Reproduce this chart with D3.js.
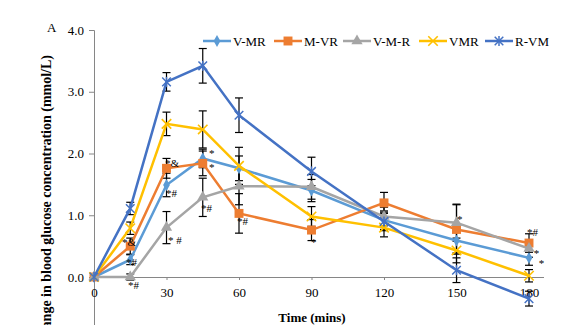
<!DOCTYPE html>
<html>
<head>
<meta charset="utf-8">
<script src="https://cdn.jsdelivr.net/npm/d3@7"></script>
<style>
  body { margin: 0; background: #fff; }
  svg { display: block; font-family: "Liberation Serif", "DejaVu Serif", serif; }
</style>
</head>
<body>
<svg id="main_chart" width="576" height="325"></svg>
<script>
// time points (mins)
const times = [0, 15, 30, 45, 60, 90, 120, 150, 180];
const seriesNames = ["V-MR", "M-VR", "V-M-R", "VMR", "R-VM"];

// mean change in blood glucose (mmol/L)
const vmr_dash = [0, 0.28, 1.49, 1.92, 1.76, 1.40, 0.92, 0.59, 0.31];
const mvr      = [0, 0.50, 1.76, 1.84, 1.03, 0.76, 1.20, 0.77, 0.55];
const vmr_tri  = [0, 0.00, 0.80, 1.29, 1.47, 1.46, 0.98, 0.88, 0.46];
const vmr      = [0, 0.79, 2.48, 2.39, 1.80, 0.98, 0.80, 0.43, 0.02];
const rvm      = [0, 1.11, 3.16, 3.42, 2.62, 1.71, 0.90, 0.11, -0.35];

// error bar half-widths
const err_vmr_dash = [0, 0.08, 0.19, 0.15, 0.20, 0.18, 0.15, 0.20, 0.12];
const err_mvr      = [0, 0.13, 0.16, 0.20, 0.32, 0.17, 0.17, 0.40, 0.15];
const err_vmr_tri  = [0, 0.05, 0.26, 0.31, 0.30, 0.20, 0.15, 0.30, 0.14];
const err_vmr      = [0, 0.10, 0.19, 0.30, 0.30, 0.16, 0.15, 0.20, 0.10];
const err_rvm      = [0, 0.10, 0.15, 0.28, 0.28, 0.23, 0.15, 0.20, 0.12];

const yTicks = [0, 1, 2, 3, 4];
const xTicks = [0, 30, 60, 90, 120, 150, 180];

// significance marks (t, value at baseline, label)
const marks = [
  {t: 11.6, v: 0.50, label: "*&"},
  {t: 13.2, v: 0.18, label: "*#"},
  {t: 14.1, v: -0.19, label: "*#"},
  {t: 29.4, v: 1.78, label: "*&"},
  {t: 29.8, v: 1.30, label: "*#"},
  {t: 30.6, v: 0.53, label: "* #"},
  {t: 47.6, v: 1.95, label: "*"},
  {t: 47.6, v: 1.72, label: "*"},
  {t: 44.3, v: 1.05, label: "*#"},
  {t: 59.2, v: 0.84, label: "*#"},
  {t: 89.8, v: 0.50, label: "*"},
  {t: 150.2, v: 0.87, label: "*"},
  {t: 179.2, v: 0.66, label: "*#"},
  {t: 182, v: 0.33, label: "*"},
  {t: 184, v: 0.16, label: "*"}
];

const colors = ["#5B9BD5", "#ED7D31", "#A5A5A5", "#FFC000", "#4472C4"];
const markers = ["diamond", "square", "triangle", "cross", "star"];
const values = [vmr_dash, mvr, vmr_tri, vmr, rvm];
const errors = [err_vmr_dash, err_mvr, err_vmr_tri, err_vmr, err_rvm];

let svg = d3.select("#main_chart");

let xScale = d3.scaleLinear().domain([0, 186]).range([94, 543.5]);
let yScale = d3.scaleLinear().domain([-1, 4]).range([338.75, 30]);

// y axis
svg.append("g")
    .attr("transform", "translate(94,0)")
    .call(d3.axisLeft(yScale).tickValues(yTicks).tickFormat(d3.format(".1f")).tickSize(5).tickPadding(5))
    .call(g => g.select(".domain").attr("stroke", "#868686"))
    .call(g => g.selectAll(".tick line").attr("stroke", "#868686"))
    .call(g => g.selectAll("text").attr("font-family", "Liberation Serif").attr("font-size", 13).attr("fill", "#000"));

// x axis at zero line
svg.append("g")
    .attr("transform", "translate(0," + yScale(0) + ")")
    .call(d3.axisBottom(xScale).tickValues(xTicks).tickSize(3).tickSizeOuter(0).tickPadding(8))
    .call(g => g.select(".domain").attr("stroke", "#868686"))
    .call(g => g.selectAll(".tick line").attr("stroke", "#868686"))
    .call(g => g.selectAll("text").attr("font-family", "Liberation Serif").attr("font-size", 13).attr("fill", "#000"));

// error bars
values.forEach((vals, s) => {
  let g = svg.append("g").attr("stroke", "#000").attr("stroke-width", 1.2);
  times.forEach((t, i) => {
    let e = errors[s][i];
    if (!e) return;
    let x = xScale(t), y1 = yScale(vals[i] - e), y2 = yScale(vals[i] + e);
    g.append("line").attr("x1", x).attr("x2", x).attr("y1", y1).attr("y2", y2);
    g.append("line").attr("x1", x - 4).attr("x2", x + 4).attr("y1", y1).attr("y2", y1);
    g.append("line").attr("x1", x - 4).attr("x2", x + 4).attr("y1", y2).attr("y2", y2);
  });
});

function drawMarker(g, type, color, x, y) {
  if (type === "diamond") {
    g.append("path").attr("d", d3.symbol().type(d3.symbolDiamond).size(40)())
      .attr("transform", "translate(" + x + "," + y + ")").attr("fill", color);
  } else if (type === "square") {
    g.append("path").attr("d", d3.symbol().type(d3.symbolSquare).size(80)())
      .attr("transform", "translate(" + x + "," + y + ")").attr("fill", color);
  } else if (type === "triangle") {
    g.append("path").attr("d", d3.symbol().type(d3.symbolTriangle).size(55)())
      .attr("transform", "translate(" + x + "," + y + ")").attr("fill", color);
  } else if (type === "cross") {
    g.append("path").attr("d", d3.symbol().type(d3.symbolTimes).size(60)())
      .attr("transform", "translate(" + x + "," + y + ")")
      .attr("fill", "none").attr("stroke", color).attr("stroke-width", 1.6);
  } else {
    g.append("path").attr("d", d3.symbol().type(d3.symbolTimes).size(50)())
      .attr("transform", "translate(" + x + "," + y + ")")
      .attr("fill", "none").attr("stroke", color).attr("stroke-width", 1.5);
    g.append("path").attr("d", "M0,-5V5")
      .attr("transform", "translate(" + x + "," + y + ")")
      .attr("stroke", color).attr("stroke-width", 1.5);
  }
}

let line = d3.line().x(d => xScale(d[0])).y(d => yScale(d[1]));

values.forEach((vals, s) => {
  let g = svg.append("g");
  g.append("path")
    .datum(times.map((t, i) => [t, vals[i]]))
    .attr("d", line)
    .attr("fill", "none")
    .attr("stroke", colors[s])
    .attr("stroke-width", 2.5);
  times.forEach((t, i) => drawMarker(g, markers[s], colors[s], xScale(t), yScale(vals[i])));
});

// significance marks
svg.append("g").selectAll("text")
  .data(marks)
  .enter().append("text")
  .attr("x", d => xScale(d.t))
  .attr("y", d => yScale(d.v))
  .attr("font-size", 11)
  .attr("fill", "#000")
  .text(d => d.label);

// legend
const legendX = [203, 274, 343, 419, 485];
let legend = svg.append("g");
seriesNames.forEach((name, s) => {
  let x0 = legendX[s], y0 = 41;
  legend.append("line").attr("x1", x0).attr("x2", x0 + 28).attr("y1", y0).attr("y2", y0)
    .attr("stroke", colors[s]).attr("stroke-width", 2.5);
  drawMarker(legend, markers[s], colors[s], x0 + 14, y0);
  legend.append("text").attr("x", x0 + 30).attr("y", y0 + 4.5)
    .attr("font-size", 13).attr("fill", "#000").text(name);
});

// titles
svg.append("text").attr("x", 47).attr("y", 32).attr("font-size", 13).text("A");

svg.append("text")
  .attr("transform", "translate(51,55) rotate(-90)")
  .attr("text-anchor", "end")
  .attr("font-size", 14)
  .attr("font-weight", "bold")
  .text("Change in blood glucose concentration (mmol/L)");

svg.append("text")
  .attr("x", 312).attr("y", 322)
  .attr("text-anchor", "middle")
  .attr("font-size", 13)
  .attr("font-weight", "bold")
  .text("Time (mins)");
</script>
</body>
</html>
